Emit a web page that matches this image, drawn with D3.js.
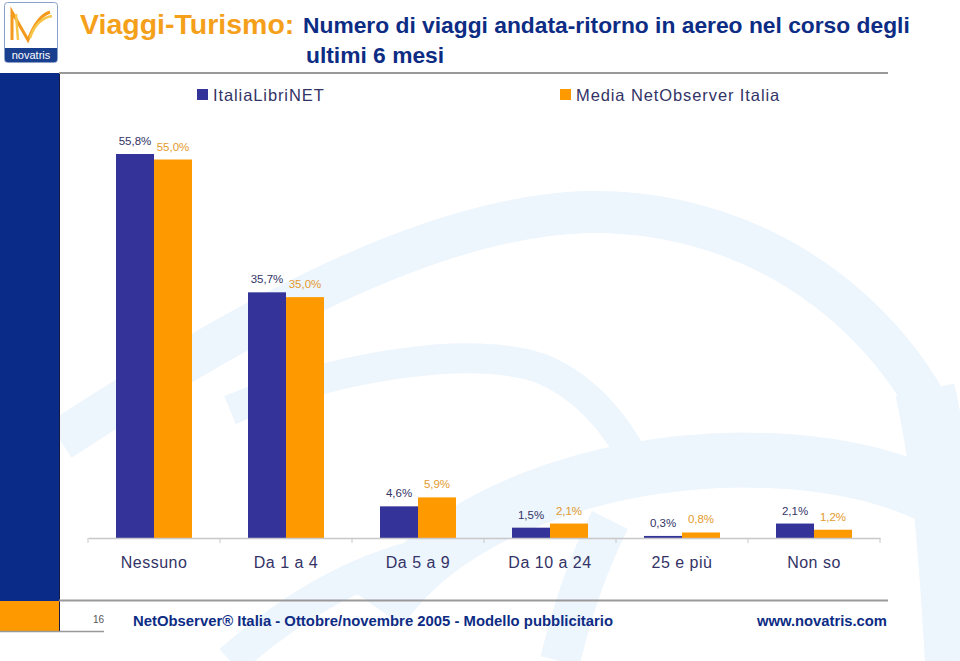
<!DOCTYPE html>
<html><head><meta charset="utf-8">
<script src="https://cdn.jsdelivr.net/npm/d3@7"></script>
<style>body{margin:0;background:#fff}svg{display:block}</style>
</head><body>
<svg id="c" width="960" height="661"></svg>
<script>
const categories = ["Nessuno","Da 1 a 4","Da 5 a 9","Da 10 a 24","25 e più","Non so"];
const seriesNames = ["ItaliaLibriNET","Media NetObserver Italia"];
const italiaLibriNET = [55.8, 35.7, 4.6, 1.5, 0.3, 2.1];
const mediaNetObserver = [55.0, 35.0, 5.9, 2.1, 0.8, 1.2];
const valueLabelsA = ["55,8%","35,7%","4,6%","1,5%","0,3%","2,1%"];
const valueLabelsB = ["55,0%","35,0%","5,9%","2,1%","0,8%","1,2%"];

const svg = d3.select("#c");
const font = "'Liberation Sans', Arial, sans-serif";
const navy = "#333366", blue = "#333399", orange = "#FF9900";

// background swooshes
const sw = svg.append("g").attr("fill","none").attr("stroke","#edf5fd").attr("stroke-linecap","butt");
sw.append("path").attr("d","M60,440 C230,330 420,218 585,212 C770,208 915,330 960,480").attr("stroke-width",42);
sw.append("path").attr("d","M230,410 C340,365 470,345 540,368 C590,388 620,430 640,470").attr("stroke-width",30);
sw.append("path").attr("d","M380,610 C450,510 600,462 740,460 C860,460 930,490 960,515").attr("stroke-width",55);
sw.append("path").attr("d","M925,390 C945,480 950,580 955,661").attr("stroke-width",60);
sw.append("path").attr("d","M230,661 C300,600 360,570 420,555").attr("stroke-width",32);
sw.append("path").attr("d","M560,661 C575,600 590,560 610,520").attr("stroke-width",40);

// left band
svg.append("rect").attr("x",0).attr("y",73).attr("width",59).attr("height",528).attr("fill","#0b2b88");
svg.append("rect").attr("x",0).attr("y",601).attr("width",59).attr("height",30).attr("fill","#FF9900");
svg.append("line").attr("x1",59.5).attr("x2",59.5).attr("y1",73).attr("y2",631).attr("stroke","#1a1a40").attr("stroke-width",1);
svg.append("line").attr("x1",0).attr("x2",104).attr("y1",631.5).attr("y2",631.5).attr("stroke","#999").attr("stroke-width",1.5);

// header/footer lines
svg.append("line").attr("x1",59).attr("x2",888).attr("y1",73).attr("y2",73).attr("stroke","#999").attr("stroke-width",2);
svg.append("line").attr("x1",59).attr("x2",888).attr("y1",600.5).attr("y2",600.5).attr("stroke","#999").attr("stroke-width",2);

// logo
const lg = svg.append("g");
lg.append("rect").attr("x",4.5).attr("y",2.5).attr("width",53).attr("height",60).attr("rx",3).attr("fill","#fff").attr("stroke","#8aa0c8");
lg.append("path").attr("d","M5,48 H57 V60 Q57,62 55,62 H7 Q5,62 5,60 Z").attr("fill","#1b3f8f");
lg.append("text").attr("x",31).attr("y",59).attr("text-anchor","middle").attr("font-family",font).attr("font-size",11).attr("fill","#fff").text("novatris");
lg.append("path").attr("d","M12,40 L12,12 L28,40 C32,30 38,16 50,12").attr("fill","none").attr("stroke","#f39a1e").attr("stroke-width",3);
lg.append("path").attr("d","M18,40 L16,14 M30,38 C34,26 40,18 52,16").attr("fill","none").attr("stroke","#f6c64a").attr("stroke-width",2.5);

// title
svg.append("text").attr("x",80).attr("y",34).attr("font-family",font).attr("font-weight","bold").attr("font-size",28.5).attr("fill","#f5a01a").text("Viaggi-Turismo:");
svg.append("text").attr("x",303).attr("y",33).attr("font-family",font).attr("font-weight","bold").attr("font-size",22.8).attr("fill","#0d2c84").text("Numero di viaggi andata-ritorno in aereo nel corso degli");
svg.append("text").attr("x",306).attr("y",63).attr("font-family",font).attr("font-weight","bold").attr("font-size",22.8).attr("fill","#0d2c84").text("ultimi 6 mesi");

// legend
const legendX = [197, 560];
const legendColors = [blue, orange];
seriesNames.forEach((s,i)=>{
  svg.append("rect").attr("x",legendX[i]).attr("y",89).attr("width",11).attr("height",11).attr("fill",legendColors[i]);
  svg.append("text").attr("x",legendX[i]+16).attr("y",101).attr("font-family",font).attr("font-size",16.5).attr("letter-spacing",0.9).attr("fill",navy).text(s);
});

// scales
const x0 = d3.scaleBand().domain(categories).range([88,880]).padding(0);
const x1 = d3.scaleBand().domain(seriesNames).range([0,x0.bandwidth()]).paddingInner(0).paddingOuter(0.737);
const y = d3.scaleLinear().domain([0,55.8]).range([538,154]);

const data = categories.map((c,i)=>({cat:c, vals:[
  {s:seriesNames[0], v:italiaLibriNET[i], lbl:valueLabelsA[i], col:blue, lc:navy},
  {s:seriesNames[1], v:mediaNetObserver[i], lbl:valueLabelsB[i], col:orange, lc:"#e39a2c"}]}));

const g = svg.append("g");
const grp = g.selectAll("g.cat").data(data).join("g").attr("transform",d=>`translate(${x0(d.cat)},0)`);
grp.selectAll("rect").data(d=>d.vals).join("rect")
  .attr("x",d=>x1(d.s)).attr("width",x1.bandwidth())
  .attr("y",d=>y(d.v)).attr("height",d=>y(0)-y(d.v)).attr("fill",d=>d.col);
grp.selectAll("text").data(d=>d.vals).join("text")
  .attr("x",d=>x1(d.s)+x1.bandwidth()/2).attr("y",d=>y(d.v)-9)
  .attr("text-anchor","middle").attr("font-family",font).attr("font-size",11.5)
  .attr("fill",d=>d.lc).text(d=>d.lbl);

// axis
const axis = svg.append("g").attr("transform","translate(0,538)")
  .call(d3.axisBottom(x0).tickSize(0).tickPadding(18.5));
axis.select(".domain").attr("stroke","#c8c8c8").attr("stroke-width",1.5);
axis.selectAll(".tick text").attr("font-family",font).attr("font-size",16).attr("letter-spacing",0.5).attr("fill",navy);
const bounds = categories.map(c=>x0(c)).concat([880]);
axis.selectAll("line.sep").data(bounds).join("line").attr("class","sep")
  .attr("x1",d=>d).attr("x2",d=>d).attr("y1",0).attr("y2",5).attr("stroke","#c8c8c8");

// footer
svg.append("text").attr("x",93).attr("y",623).attr("font-family",font).attr("font-size",10).attr("fill","#555").text("16");
svg.append("text").attr("x",133).attr("y",626).attr("font-family",font).attr("font-weight","bold").attr("font-size",15)
  .attr("fill","#0d2c84").attr("textLength",480).attr("lengthAdjust","spacingAndGlyphs").text("NetObserver® Italia - Ottobre/novembre 2005 - Modello pubblicitario");
svg.append("text").attr("x",757).attr("y",626).attr("font-family",font).attr("font-weight","bold").attr("font-size",15)
  .attr("fill","#0d2c84").attr("textLength",130).attr("lengthAdjust","spacingAndGlyphs").text("www.novatris.com");
</script>
</body></html>
